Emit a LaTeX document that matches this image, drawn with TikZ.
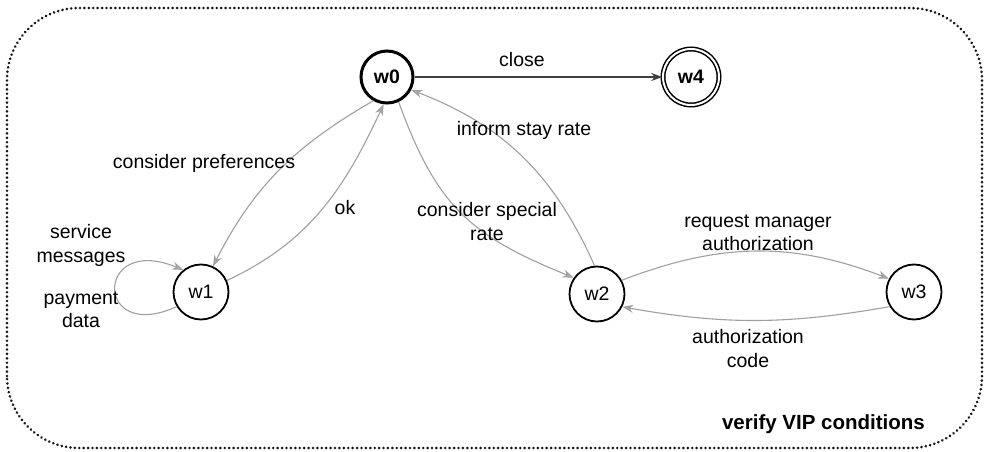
\documentclass[tikz,border=0pt]{standalone}
\usepackage{fontspec}
\setmainfont{Liberation Sans}
\usetikzlibrary{arrows.meta}
\begin{document}
\begin{tikzpicture}[x=1pt,y=1pt,
  every node/.style={font=\fontsize{19.5}{23.5}\selectfont},
  state/.style={circle, draw=black, line width=1.8pt, minimum size=55pt, inner sep=0pt},
  startstate/.style={state, line width=3pt, minimum size=52pt, font=\fontsize{19.5}{23.5}\selectfont\bfseries},
  finalstate/.style={state, double, line width=1.5pt, double distance=2pt, minimum size=56pt, font=\fontsize{19.5}{23.5}\selectfont\bfseries},
  trans/.style={draw=gray!75, line width=1.1pt, -{Stealth[length=11pt,width=8pt,fill=gray!60]}},
  strongtrans/.style={draw=black!75, line width=1.8pt, -{Stealth[length=11pt,width=8pt]}},
  lbl/.style={align=center, inner sep=0pt},
  frame/.style={draw=black!90, line width=2.9pt, line cap=round, dash pattern=on 0.01pt off 4.4pt, rounded corners=72pt}
]
\useasboundingbox (0,0) rectangle (986,451);
\draw[frame] (7,3) rectangle (982,443);

\node[startstate] (w0) at (387,374) {w0};
\node[finalstate] (w4) at (691,374) {w4};
\node[state] (w1) at (201,159) {w1};
\node[state] (w2) at (597,157) {w2};
\node[state] (w3) at (914,159) {w3};

\draw[strongtrans] (w0) -- (w4);
\draw[trans] (w0.-120) to[out=210, in=63] (w1.65);
\draw[trans] (w1.24) to[out=25, in=245] (w0.-97);
\draw[trans] (w1.211) .. controls +(-83,-38) and +(-89,37) .. (w1.129);
\draw[trans] (w0.-65) to[out=-70, in=158, looseness=1.15] (w2.145);
\draw[trans] (w2.95) to[out=114, in=-21] (w0.-28);
\draw[trans] (w2.29) to[out=21, in=159] (w3.152);
\draw[trans] (w3.211) to[out=190, in=-10] (w2.-27);

\node[lbl] (lclose) at (522,391) {close};
\node[lbl] (lpref) at (204,288) {consider preferences};
\node[lbl] (lok) at (345,243) {ok};
\node[lbl] (lserv) at (81,205.5) {service\\messages};
\node[lbl] (lpay) at (81,141) {payment\\data};
\node[lbl] (lspec) at (487,229.5) {consider special\\rate};
\node[lbl] (linform) at (524,321) {inform stay rate};
\node[lbl] (lreq) at (758,218) {request manager\\authorization};
\node[lbl] (lcode) at (748,102.5) {authorization\\code};
\node[lbl, anchor=east, font=\fontsize{20.5}{24}\selectfont\bfseries] (ltitle) at (925,27) {verify VIP conditions};
\end{tikzpicture}
\end{document}
